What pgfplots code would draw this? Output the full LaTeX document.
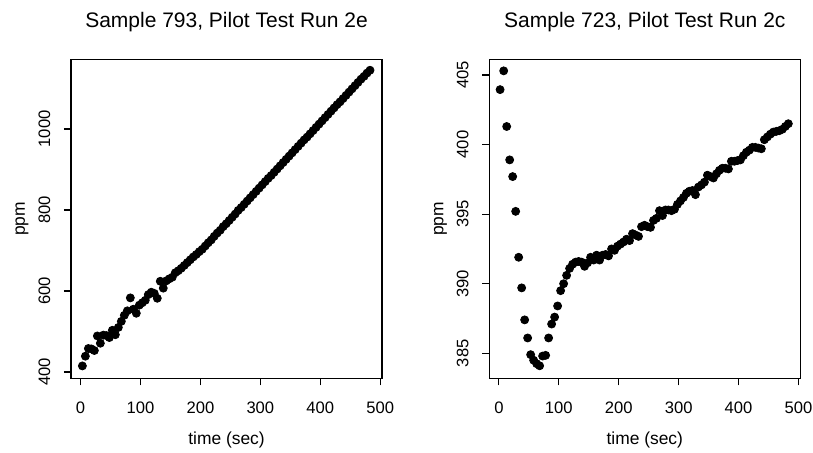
\documentclass[border=0pt]{standalone}
\usepackage{pgfplots}
\pgfplotsset{compat=1.18}
\usepackage{fontspec}
\setmainfont{Liberation Sans}
\begin{document}
\begin{tikzpicture}
\useasboundingbox (0pt,0pt) rectangle (406.5pt,226pt);
\pgfplotsset{
  rstyle/.style={
    scale only axis, width=155.5pt, height=159.5pt,
    axis line style={line width=0.8pt}, every tick/.style={line width=0.6pt, black},
    tick align=outside, major tick length=3.5pt,
    xtick={0,100,200,300,400,500}, xmin=-16, xmax=503,
    xtick pos=bottom, ytick pos=left,
    /pgf/number format/assume math mode=true,
    /pgf/number format/set thousands separator={},
    tick label style={font=\fontsize{8.3}{10}\selectfont},
    xticklabel style={anchor=base, yshift=-14.3pt},
    yticklabel style={xshift=-7pt, rotate=90, anchor=base},
    every axis x label/.style={at={(axis description cs:0.5,0)}, anchor=base, yshift=-33pt, font=\fontsize{8.7}{10}\selectfont},
    every axis y label/.style={at={(axis description cs:0,0.5)}, xshift=-23pt, rotate=90, anchor=base, font=\fontsize{8.7}{10}\selectfont},
    every axis title/.style={at={(axis description cs:0.5,1)}, anchor=base, yshift=16pt, font=\fontsize{10.5}{12}\selectfont},
    xlabel={time (sec)}, ylabel={ppm},
  },
  dots/.style={only marks, mark=*, mark size=2pt, black, mark options={fill=black, draw=black}},
}
\begin{axis}[rstyle, at={(35.5pt,36.85pt)}, anchor=south west,
  ymin=384.4, ymax=1172, ytick={400,600,800,1000},
  title={Sample 793, Pilot Test Run 2e}]
\addplot[dots] coordinates {
(3,415) (8,439) (13,458) (18,457) (23,453) (28,489) (33,471) (38,491) (43,490) (48,485)
(53,503) (58,492) (63,510) (68,525) (73,540) (78,551) (83,583) (88,555) (93,545) (98,565)
(103,571) (108,577) (113,591) (118,597) (123,594) (128,582) (133,624) (138,607) (143,625) (148,630)
(153,634) (158,645) (163,650) (168,656) (173,663) (178,670) (183,677) (188,684) (193,690) (198,697)
(203,703) (208,711) (213,719) (218,726) (223,735) (228,743) (233,750) (238,759) (243,766) (248,774)
(253,782) (258,790) (263,799) (268,806) (273,814) (278,822) (283,830) (288,838) (293,846) (298,854)
(303,862) (308,870) (313,878) (318,885) (323,893) (328,901) (333,909) (338,917) (343,925) (348,933)
(353,941) (358,949) (363,957) (368,965) (373,973) (378,980) (383,988) (388,996) (393,1004) (398,1012)
(403,1020) (408,1028) (413,1036) (418,1044) (423,1052) (428,1060) (433,1067) (438,1075) (443,1083) (448,1091)
(453,1099) (458,1107) (463,1115) (468,1123) (473,1130) (478,1138) (483,1145)
};
\end{axis}
\begin{axis}[rstyle, at={(244.65pt,36.85pt)}, anchor=south west,
  ymin=383.2, ymax=406.13, ytick={385,390,395,400,405},
  title={Sample 723, Pilot Test Run 2c}]
\addplot[dots] coordinates {
(2,403.95) (8,405.3) (13,401.3) (18,398.9) (23,397.7) (28,395.2) (33,391.9) (38,389.7) (43,387.4) (48,386.1)
(53,384.9) (58,384.5) (63,384.25) (68,384.1) (73,384.8) (78,384.85) (83,386.1) (88,387.1) (93,387.6) (98,388.4)
(103,389.5) (108,390.0) (113,390.6) (118,391.1) (123,391.4) (128,391.55) (133,391.6) (138,391.55) (143,391.25) (148,391.5)
(153,391.9) (158,391.7) (163,392.05) (168,391.7) (173,392.05) (178,392.1) (183,392.0) (188,392.5) (193,392.4) (198,392.7)
(203,392.85) (208,393.0) (213,393.2) (218,393.1) (223,393.6) (228,393.5) (233,393.4) (238,394.1) (243,394.2) (248,394.1)
(253,394.05) (258,394.55) (263,394.7) (268,395.25) (273,394.9) (278,395.3) (283,395.3) (288,395.25) (293,395.35) (298,395.7)
(303,395.95) (308,396.2) (313,396.5) (318,396.65) (323,396.7) (328,396.4) (333,396.95) (338,397.1) (343,397.3) (348,397.8)
(353,397.7) (358,397.6) (363,397.9) (368,398.15) (373,398.3) (378,398.3) (383,398.25) (388,398.8) (393,398.8) (398,398.85)
(403,398.9) (408,399.2) (413,399.45) (418,399.6) (423,399.8) (428,399.8) (433,399.75) (438,399.7) (443,400.35) (448,400.55)
(453,400.75) (458,400.9) (463,400.95) (468,401.0) (473,401.1) (478,401.3) (483,401.5)
};
\end{axis}
\end{tikzpicture}
\end{document}
